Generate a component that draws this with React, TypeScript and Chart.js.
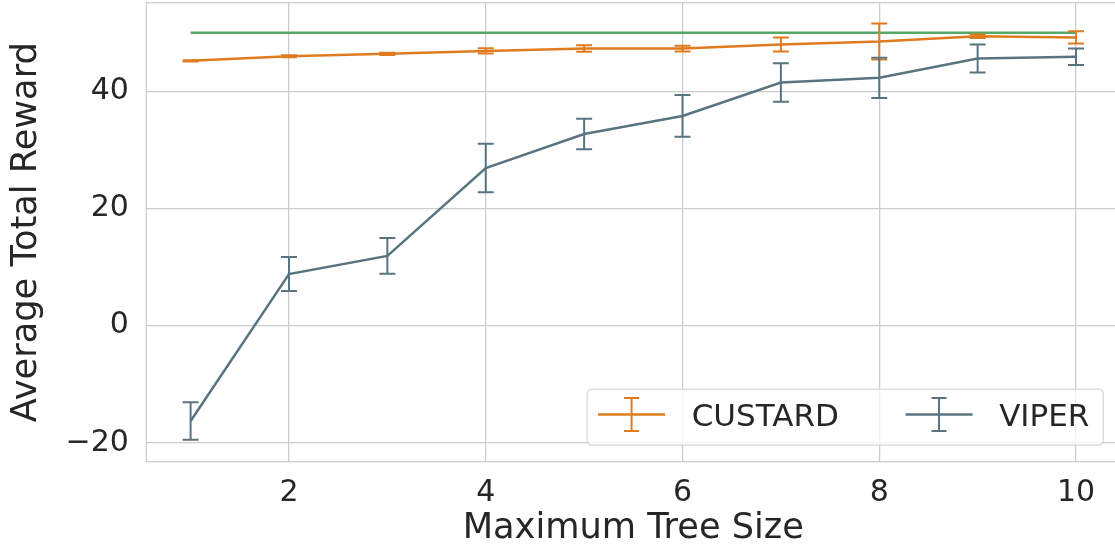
import React, { useEffect, useRef } from "react";
import { Chart, registerables } from "chart.js";

Chart.register(...registerables);

// ---- data ----
const treeSizes = [1, 2, 3, 4, 5, 6, 7, 8, 9, 10];
const custardMean = [45.2, 46.0, 46.4, 46.9, 47.3, 47.3, 48.0, 48.5, 49.4, 49.2];
const custardErr = [0.1, 0.17, 0.2, 0.45, 0.55, 0.5, 1.2, 3.07, 0.3, 1.05];
const viperMean = [-16.3, 8.8, 11.9, 26.9, 32.7, 35.8, 41.5, 42.3, 45.6, 45.9];
const viperErr = [3.2, 2.9, 3.05, 4.15, 2.6, 3.55, 3.3, 3.45, 2.4, 1.4];
const optimalX = [1, 10];
const optimalReward = [50, 50];
const xTicks = [2, 4, 6, 8, 10];
const yTicks = [-20, 0, 20, 40];
const seriesLabels = ["CUSTARD", "VIPER"];
const xTitle = "Maximum Tree Size";
const yTitle = "Average Total Reward";

const ORANGE = "#df7b1f";
const SLATE = "#587480";
const GREEN = "#55a868";
const TEXT = "#262626";
const GRID = "#cccccc";
const FONT = "'DejaVu Sans', sans-serif";

const toPoints = (xs: number[], ys: number[]) => xs.map((x, i) => ({ x, y: ys[i] }));

const drawErrSymbol = (ctx: CanvasRenderingContext2D, x0: number, len: number, cy: number, color: string) => {
  ctx.save();
  ctx.strokeStyle = color;
  ctx.lineWidth = 2.5;
  ctx.beginPath();
  ctx.moveTo(x0, cy);
  ctx.lineTo(x0 + len, cy);
  ctx.stroke();
  const cx = x0 + len / 2;
  ctx.lineWidth = 2;
  ctx.beginPath();
  ctx.moveTo(cx, cy - 16.5);
  ctx.lineTo(cx, cy + 16.5);
  ctx.moveTo(cx - 7.5, cy - 16.5);
  ctx.lineTo(cx + 7.5, cy - 16.5);
  ctx.moveTo(cx - 7.5, cy + 16.5);
  ctx.lineTo(cx + 7.5, cy + 16.5);
  ctx.stroke();
  ctx.restore();
};

const errorBarPlugin = {
  id: "errorBarsFrameLegend",
  afterDatasetsDraw(chart: any) {
    const { ctx, chartArea, scales } = chart;
    const xs = scales.x;
    const ys = scales.y;
    ctx.save();
    ctx.beginPath();
    ctx.rect(chartArea.left, chartArea.top, chartArea.right - chartArea.left, chartArea.bottom - chartArea.top);
    ctx.clip();
    chart.data.datasets.forEach((ds: any) => {
      const errs: number[] | undefined = ds.errors;
      if (!errs) return;
      ctx.strokeStyle = ds.borderColor;
      ctx.lineWidth = 2;
      ds.data.forEach((p: any, j: number) => {
        const px = xs.getPixelForValue(p.x);
        const top = ys.getPixelForValue(p.y + errs[j]);
        const bot = ys.getPixelForValue(p.y - errs[j]);
        ctx.beginPath();
        ctx.moveTo(px, top);
        ctx.lineTo(px, bot);
        ctx.moveTo(px - 8, top);
        ctx.lineTo(px + 8, top);
        ctx.moveTo(px - 8, bot);
        ctx.lineTo(px + 8, bot);
        ctx.stroke();
      });
    });
    ctx.restore();
    // frame
    ctx.save();
    ctx.strokeStyle = GRID;
    ctx.lineWidth = 1.25;
    ctx.strokeRect(chartArea.left, chartArea.top, chartArea.right - chartArea.left, chartArea.bottom - chartArea.top);
    ctx.restore();
  },
  afterDraw(chart: any) {
    const { ctx, chartArea } = chart;
    const entries = chart.data.datasets.filter((d: any) => d.errors);
    ctx.save();
    ctx.font = `31px ${FONT}`;
    const widths = entries.map((d: any) => ctx.measureText(d.label).width);
    const padL = 11, symLen = 67, gapText = 26.6, gapItem = 66.7, padR = 14;
    let boxW = padL + padR;
    widths.forEach((w: number, i: number) => {
      boxW += symLen + gapText + w + (i < widths.length - 1 ? gapItem : 0);
    });
    const boxH = 56;
    const right = chartArea.right - 17;
    const bottom = chartArea.bottom - 16.7;
    const left = right - boxW;
    const top = bottom - boxH;
    ctx.beginPath();
    ctx.roundRect(left, top, boxW, boxH, 5);
    ctx.fillStyle = "rgba(255,255,255,0.8)";
    ctx.fill();
    ctx.strokeStyle = "rgba(204,204,204,0.8)";
    ctx.lineWidth = 1.25;
    ctx.stroke();
    const cy = top + 25.5;
    let x = left + padL;
    entries.forEach((d: any, i: number) => {
      drawErrSymbol(ctx, x, symLen, cy, d.borderColor);
      x += symLen + gapText;
      ctx.fillStyle = TEXT;
      ctx.textBaseline = "alphabetic";
      ctx.textAlign = "left";
      ctx.fillText(d.label, x, cy + 11.2);
      x += widths[i] + gapItem;
    });
    ctx.restore();
  },
};

export default function App() {
  const ref = useRef<HTMLCanvasElement | null>(null);
  useEffect(() => {
    if (!ref.current) return;
    const chart = new Chart(ref.current, {
      type: "line",
      data: {
        datasets: [
          {
            label: "optimal",
            data: toPoints(optimalX, optimalReward),
            borderColor: GREEN,
            borderWidth: 2.5,
            pointRadius: 0,
          },
          {
            label: seriesLabels[0],
            data: toPoints(treeSizes, custardMean),
            borderColor: ORANGE,
            borderWidth: 2.5,
            pointRadius: 0,
            errors: custardErr,
          } as any,
          {
            label: seriesLabels[1],
            data: toPoints(treeSizes, viperMean),
            borderColor: SLATE,
            borderWidth: 2.5,
            pointRadius: 0,
            errors: viperErr,
          } as any,
        ],
      },
      options: {
        responsive: false,
        animation: false,
        events: [],
        layout: { padding: { left: 0, right: 1.7, top: 2.7, bottom: 0 } },
        plugins: { legend: { display: false }, tooltip: { enabled: false } },
        scales: {
          x: {
            type: "linear",
            min: 0.55,
            max: 10.45,
            afterBuildTicks: (s: any) => {
              s.ticks = xTicks.map((v) => ({ value: v }));
            },
            afterFit: (s: any) => {
              s.height = 86.3;
              s.paddingLeft = 0;
              s.paddingRight = 0;
            },
            grid: { color: GRID, lineWidth: 1.25, drawTicks: false },
            border: { display: false },
            ticks: {
              color: TEXT,
              font: { family: FONT, size: 30 },
              padding: 14,
              maxRotation: 0,
              autoSkip: false,
            },
            title: {
              display: true,
              text: xTitle,
              color: TEXT,
              font: { family: FONT, size: 35.2, lineHeight: 1.2 },
              padding: { top: 0, bottom: -2 },
            },
          },
          y: {
            type: "linear",
            min: -23.24,
            max: 55.13,
            afterBuildTicks: (s: any) => {
              s.ticks = yTicks.map((v) => ({ value: v }));
            },
            afterFit: (s: any) => {
              s.width = 146.35;
              s.paddingTop = 0;
              s.paddingBottom = 0;
            },
            grid: { color: GRID, lineWidth: 1.25, drawTicks: false },
            border: { display: false },
            ticks: {
              color: TEXT,
              font: { family: FONT, size: 30 },
              padding: 17.5,
              autoSkip: false,
              callback: (v: any) => (Number(v) < 0 ? "\u2212" + Math.abs(Number(v)) : String(v)),
            },
            title: {
              display: true,
              text: yTitle,
              color: TEXT,
              font: { family: FONT, size: 35.2, lineHeight: 1.2 },
              padding: { top: 6, bottom: 0 },
            },
          },
        },
      },
      plugins: [errorBarPlugin],
    } as any);
    return () => chart.destroy();
  }, []);
  return (
    <div style={{ position: "fixed", left: 0, top: 0, width: 1115, height: 548, overflow: "hidden", background: "#fff" }}>
      <canvas ref={ref} width={1122} height={548} style={{ width: 1122, height: 548, display: "block" }} />
    </div>
  );
}
